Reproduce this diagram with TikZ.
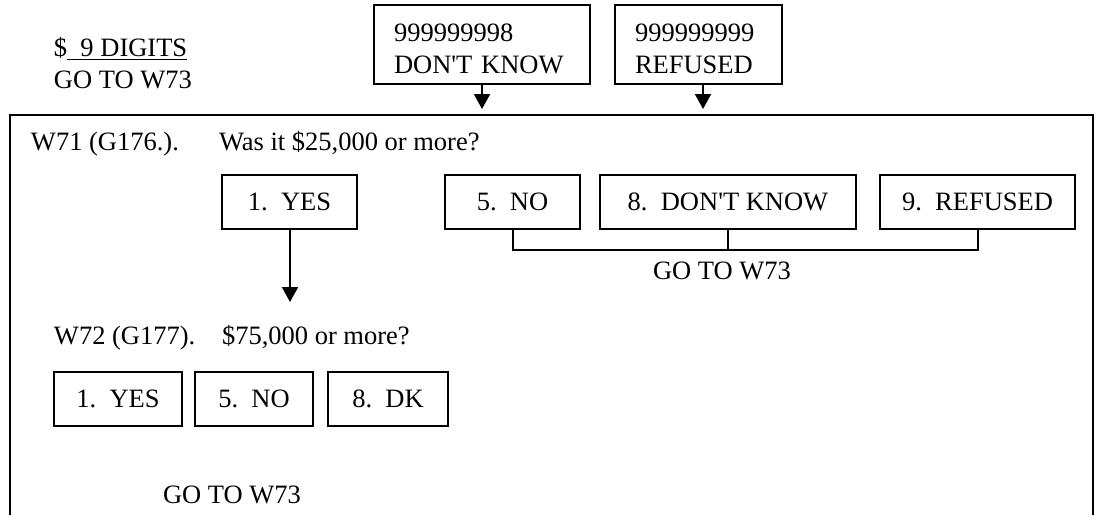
\documentclass[tikz,border=0pt]{standalone}
\usepackage{fontspec}
\setmainfont{Liberation Serif}
\usetikzlibrary{arrows.meta}

\begin{document}
\begin{tikzpicture}[x=0.5pt, y=-0.5pt, line width=1pt,
    every node/.style={font=\fontsize{13.25}{16}\selectfont, inner sep=0pt},
    optbox/.style={draw, minimum height=27pt},
    codebox/.style={draw, align=left, minimum height=39.5pt, inner xsep=10pt},
    arr/.style={-{Triangle[width=8pt,length=7.5pt]}}]
    \useasboundingbox (0,0) rectangle (1099,515);

    % amount given
    \node[align=left, anchor=west] (digits) at (53,63) {\$\underline{\ \ 9 DIGITS}\\GO TO W73};
    \node[codebox, text width=88pt] (dkcode) at (482,44) {\rule{0pt}{13.5pt}999999998\\DON\textquotesingle T KNOW};
    \node[codebox, text width=63.5pt] (refcode) at (698.5,44) {\rule{0pt}{13.5pt}999999999\\REFUSED};
    \coordinate (dkin) at (482,109);
    \coordinate (refin) at (703,109);

    % question frame
    \draw[line width=1.3pt] (10,515) -- (10,115) -- (1093,115) -- (1093,515);

    % W71
    \node[anchor=base west] (w71) at (30,150) {W71 (G176.).};
    \node[anchor=base west] (w71q) at (218,150) {Was it \$25,000 or more?};
    \node[optbox, minimum width=67.5pt] (yes1) at (289.5,202) {1.\ \ YES};
    \node[optbox, minimum width=67.5pt] (no5) at (512.5,202) {5.\ \ NO};
    \node[optbox, minimum width=128pt] (dk8) at (728,202) {8.\ \ DON\textquotesingle T KNOW};
    \node[optbox, minimum width=97.5pt] (ref9) at (977.5,202) {9.\ \ REFUSED};
    \node[anchor=base] (goto71) at (722,279) {GO TO W73};
    \coordinate (w72in) at (290,302);

    % W72
    \node[anchor=base west] (w72) at (53,344) {W72 (G177).};
    \node[anchor=base west] (w72q) at (221,344) {\$75,000 or more?};
    \node[optbox, minimum width=64pt] (yes72) at (118,399) {1.\ \ YES};
    \node[optbox, minimum width=59pt] (no72) at (254,399) {5.\ \ NO};
    \node[optbox, minimum width=60pt] (dk72) at (388,399) {8.\ \ DK};
    \node[anchor=base west] (goto72) at (162,503) {GO TO W73};

    % arrows
    \draw[arr] (dkcode.south |- dkin) ++(0,-25) -- (dkin);
    \draw[arr] (refcode.south -| refin) -- (refin);
    \draw[arr] (yes1.south -| w72in) -- (w72in);

    % bracket
    \draw (no5.south) -- (no5.south |- 0,250) -| (ref9.south);
    \draw (dk8.south) -- (dk8.south |- 0,250);
\end{tikzpicture}
\end{document}
